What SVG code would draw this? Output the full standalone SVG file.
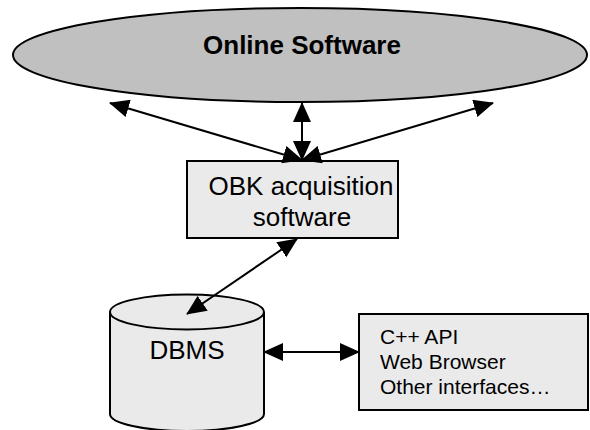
<svg xmlns="http://www.w3.org/2000/svg" width="590" height="430" viewBox="0 0 590 430">
<style>
  .lbl { font-family: "Liberation Sans", Arial, sans-serif; fill: #000; }
  .shape { stroke: #000; stroke-width: 2; }
  .conn { stroke: #000; stroke-width: 2; fill: none; marker-start: url(#ah); marker-end: url(#ah); }
</style>
<defs>
  <marker id="ah" viewBox="0 0 20 18" markerUnits="userSpaceOnUse" markerWidth="20" markerHeight="18" refX="19" refY="9" orient="auto-start-reverse">
    <path d="M0,0 L20,9 L0,18 z" fill="#000"/>
  </marker>
</defs>
<rect width="590" height="430" fill="#fff"/>
<g id="online-software">
  <ellipse class="shape" cx="300" cy="55" rx="287" ry="47" fill="#c0c0c0"/>
  <text class="lbl" x="302" y="54" font-size="26" font-weight="bold" text-anchor="middle">Online Software</text>
</g>
<g id="obk-acquisition">
  <rect class="shape" x="187" y="161" width="211" height="77" fill="#eaeaea"/>
  <text class="lbl" x="301" y="195" font-size="26" text-anchor="middle">OBK acquisition</text>
  <text class="lbl" x="302" y="226" font-size="26" text-anchor="middle">software</text>
</g>
<g id="dbms">
  <path class="shape" d="M110,312 L110,414 A77,17 0 0 0 264,414 L264,312" fill="#eaeaea"/>
  <ellipse class="shape" cx="187" cy="312" rx="77" ry="17.5" fill="#eaeaea"/>
  <text class="lbl" x="187" y="359" font-size="26" text-anchor="middle">DBMS</text>
</g>
<g id="interfaces">
  <rect class="shape" x="359" y="314" width="229" height="96" fill="#eaeaea"/>
  <text class="lbl" x="380" y="344" font-size="21">C++ API</text>
  <text class="lbl" x="380" y="369" font-size="21">Web Browser</text>
  <text class="lbl" x="380" y="394" font-size="21">Other interfaces…</text>
</g>
<g id="connectors">
  <line class="conn" x1="302" y1="160" x2="110" y2="103"/>
  <line class="conn" x1="302" y1="160" x2="493" y2="103"/>
  <line class="conn" x1="302" y1="160" x2="302" y2="103"/>
  <line class="conn" x1="297" y1="239" x2="187" y2="314"/>
  <line class="conn" x1="264" y1="352" x2="359" y2="352"/>
</g>
</svg>
